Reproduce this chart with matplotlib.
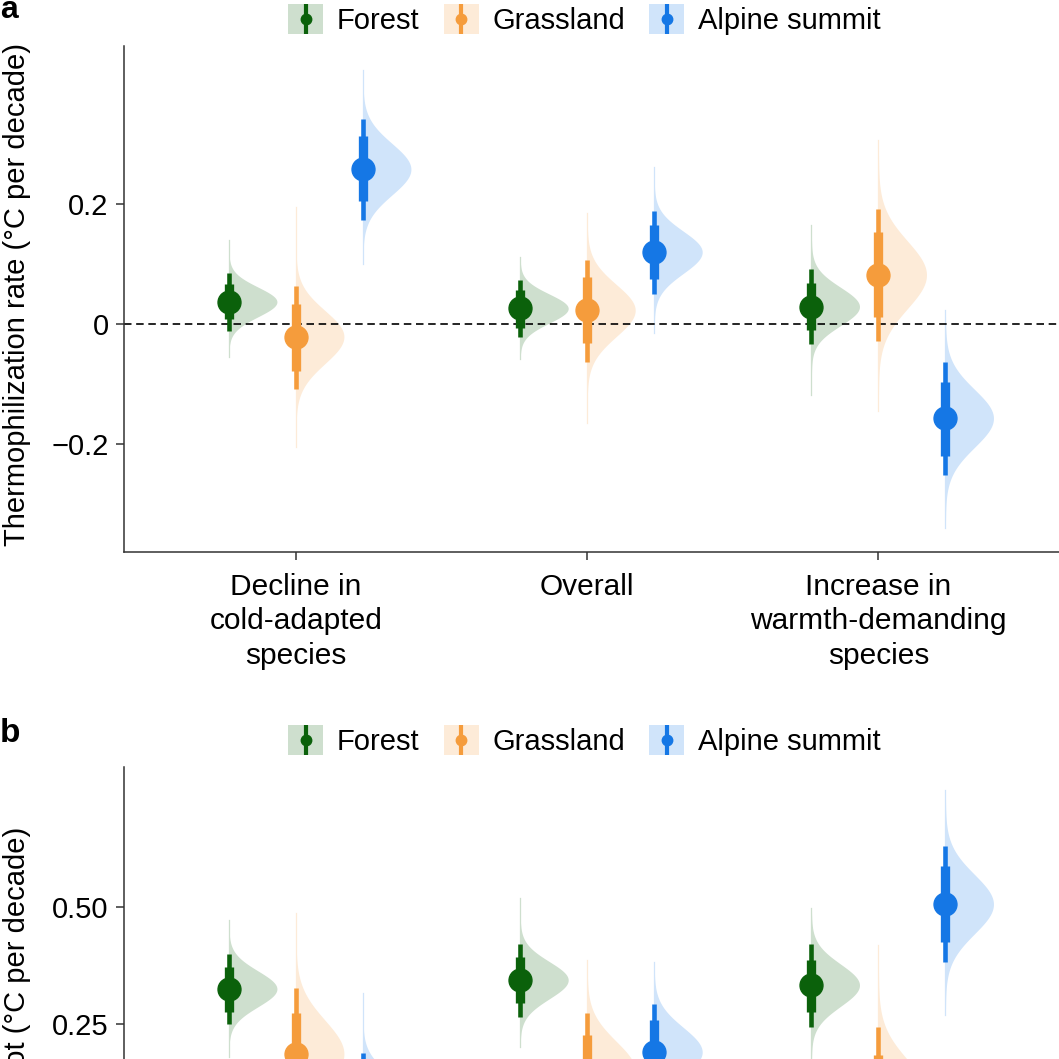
import numpy as np
import matplotlib
matplotlib.use('Agg')
import matplotlib.pyplot as plt
from matplotlib.legend_handler import HandlerBase
from matplotlib.patches import Rectangle
from matplotlib.lines import Line2D
from matplotlib.colors import to_rgb

plt.rcParams['font.family'] = ['Liberation Sans', 'DejaVu Sans']

categories = ['Decline in\ncold-adapted\nspecies', 'Overall', 'Increase in\nwarmth-demanding\nspecies']
habitats = ['Forest', 'Grassland', 'Alpine summit']
colors = ['#0b610b', '#f59c3c', '#1577e5']

# panel a: rows = Forest, Grassland, Alpine summit; columns = categories
a_med = [[0.037, 0.026, 0.029], [-0.021, 0.023, 0.082], [0.258, 0.120, -0.157]]
a_thick_lo = [[0.008, -0.007, -0.010], [-0.078, -0.032, 0.012], [0.205, 0.075, -0.220]]
a_thick_hi = [[0.066, 0.057, 0.068], [0.033, 0.078, 0.153], [0.313, 0.165, -0.097]]
a_thin_lo = [[-0.012, -0.022, -0.033], [-0.109, -0.063, -0.028], [0.174, 0.050, -0.252]]
a_thin_hi = [[0.085, 0.073, 0.092], [0.064, 0.107, 0.192], [0.342, 0.188, -0.063]]
a_tail_lo = [[-0.055, -0.058, -0.118], [-0.205, -0.165, -0.145], [0.100, -0.015, -0.340]]
a_tail_hi = [[0.140, 0.112, 0.165], [0.195, 0.185, 0.307], [0.423, 0.262, 0.023]]
a_ticks = [-0.2, 0, 0.2]
a_ticklabels = ['\u22120.2', '0', '0.2']

# panel b (lower part is outside the picture)
b_med = [[0.325, 0.344, 0.333], [0.186, 0.150, 0.100], [0.090, 0.190, 0.506]]
b_thick_lo = [[0.276, 0.295, 0.275], [0.100, 0.075, 0.020], [0.030, 0.120, 0.425]]
b_thick_hi = [[0.372, 0.393, 0.387], [0.273, 0.226, 0.184], [0.150, 0.259, 0.588]]
b_thin_lo = [[0.250, 0.265, 0.244], [0.045, 0.020, -0.040], [0.000, 0.090, 0.382]]
b_thin_hi = [[0.400, 0.421, 0.421], [0.327, 0.273, 0.244], [0.188, 0.293, 0.630]]
b_tail_lo = [[0.180, 0.200, 0.170], [-0.100, -0.100, -0.150], [-0.100, 0.000, 0.270]]
b_tail_hi = [[0.472, 0.520, 0.498], [0.487, 0.387, 0.419], [0.316, 0.383, 0.750]]
b_ticks = [0.25, 0.5]
b_ticklabels = ['0.25', '0.50']

offsets = [-0.23, 0.0, 0.23]
slab_w = 0.165
fs = 21
spine_col = '#333333'


def light(c, a=0.2):
    r = np.array(to_rgb(c))
    return tuple(1 - a * (1 - r))


class HalfEyeKey(HandlerBase):
    def create_artists(self, legend, orig_handle, xdescent, ydescent, width, height, fontsize, trans):
        col = orig_handle.get_color()
        rect = Rectangle((-xdescent, -ydescent), width, height, facecolor=light(col), lw=0, transform=trans)
        cx = -xdescent + width / 2
        ln = Line2D([cx, cx], [-ydescent, -ydescent + height], color=col, lw=3, solid_capstyle='butt', transform=trans)
        dot = Line2D([cx], [-ydescent + height / 2], marker='o', ms=7.5, color=col, lw=0, transform=trans)
        return [rect, ln, dot]


def draw_panel(ax, med, k_lo, k_hi, t_lo, t_hi, tail_lo, tail_hi, ylim, ticks, ticklabels, xlabels=True):
    ax.axhline(0, color='black', lw=1.2, dashes=(4.5, 2.8), zorder=2)
    for h in range(3):
        col = colors[h]
        lc = light(col)
        for c in range(3):
            x0 = c + offsets[h]
            m = med[h][c]
            sd_lo = (m - t_lo[h][c]) / 1.96
            sd_hi = (t_hi[h][c] - m) / 1.96
            y = np.linspace(tail_lo[h][c], tail_hi[h][c], 400)
            s = np.where(y < m, sd_lo, sd_hi)
            w = slab_w * np.exp(-0.5 * ((y - m) / s) ** 2)
            ax.fill_betweenx(y, x0, x0 + w, color=lc, lw=0, zorder=1)
            ax.plot([x0, x0], [tail_lo[h][c], tail_hi[h][c]], color=lc, lw=0.9, zorder=1)
            ax.vlines(x0, t_lo[h][c], t_hi[h][c], color=col, lw=3.3, capstyle='butt', zorder=3)
            ax.vlines(x0, k_lo[h][c], k_hi[h][c], color=col, lw=6.7, capstyle='butt', zorder=3)
            ax.plot(x0, m, 'o', ms=16.5, color=col, zorder=4)
    ax.set_xlim(-0.59, 2.62)
    ax.set_ylim(*ylim)
    ax.set_yticks(ticks)
    ax.set_yticklabels(ticklabels, fontsize=fs)
    ax.set_xticks([0, 1, 2])
    if xlabels:
        ax.set_xticklabels(categories, fontsize=fs + 0.5, linespacing=1.3)
    else:
        ax.set_xticklabels([])
    for sp in ['top', 'right']:
        ax.spines[sp].set_visible(False)
    for sp in ['left', 'bottom']:
        ax.spines[sp].set_color(spine_col)
        ax.spines[sp].set_linewidth(1.1)
    ax.tick_params(length=6, width=1.1, color=spine_col, pad=5)
    ax.tick_params(axis='x', pad=9)
    handles = [Line2D([], [], color=c) for c in colors]
    ax.legend(handles, habitats, handler_map={Line2D: HalfEyeKey()}, ncol=3, frameon=False,
              loc='lower center', bbox_to_anchor=(0.4925, 1 + 11 / 506), fontsize=fs,
              handlelength=1.2, handleheight=1.2, handletextpad=0.47, columnspacing=0.83,
              borderpad=0, borderaxespad=0)


fig = plt.figure(figsize=(10.59, 10.59), dpi=100)
ax_a = fig.add_axes([124 / 1059, 1 - 552 / 1059, 935 / 1059, 506 / 1059])
ax_b = fig.add_axes([124 / 1059, 1 - 1273 / 1059, 935 / 1059, 506 / 1059])

draw_panel(ax_a, a_med, a_thick_lo, a_thick_hi, a_thin_lo, a_thin_hi, a_tail_lo, a_tail_hi,
           (-0.38, 0.4633), a_ticks, a_ticklabels)
draw_panel(ax_b, b_med, b_thick_lo, b_thick_hi, b_thin_lo, b_thin_hi, b_tail_lo, b_tail_hi,
           (0.799 - 506 / 468, 0.799), b_ticks, b_ticklabels, xlabels=False)

fig.text(25 / 1059, 1 - 294 / 1059, 'Thermophilization rate (\u00b0C per decade)', fontsize=fs,
         rotation=90, rotation_mode='anchor', ha='center', va='baseline')
fig.text(25 / 1059, 1 - 827 / 1059, 'Warming rate at plot (\u00b0C per decade)', fontsize=fs,
         rotation=90, rotation_mode='anchor', ha='right', va='baseline')

fig.text(0.0, 1 - 18 / 1059, 'a', fontsize=23, fontweight='bold', ha='left', va='baseline')
fig.text(0.0, 1 - 742 / 1059, 'b', fontsize=24, fontweight='bold', ha='left', va='baseline')

fig.savefig('out.png', dpi=100)
